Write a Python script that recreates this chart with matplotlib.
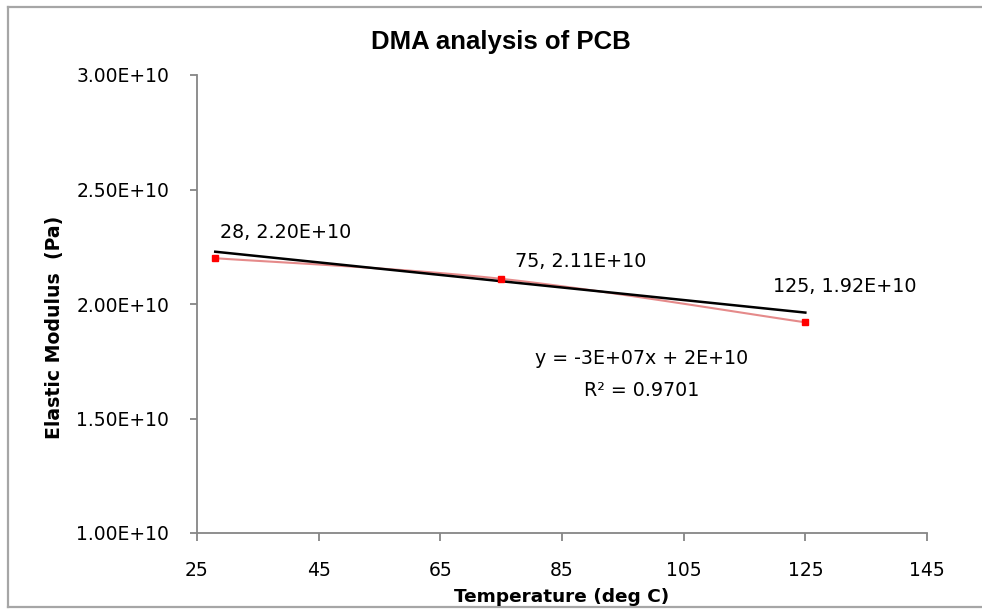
import numpy as np
import matplotlib
matplotlib.use("Agg")
import matplotlib.pyplot as plt
from matplotlib.lines import Line2D

# Measured storage modulus at three test temperatures
temperature_c = [28, 75, 125]
modulus_pa = [2.20e10, 2.11e10, 1.92e10]

# Linear trendline coefficients shown on the chart
trend_slope = -2.74e7
trend_intercept = 2.305e10

x_ticks = [25, 45, 65, 85, 105, 125, 145]
y_ticks = [1.0e10, 1.5e10, 2.0e10, 2.5e10, 3.0e10]
y_tick_labels = ["1.00E+10", "1.50E+10", "2.00E+10", "2.50E+10", "3.00E+10"]

title = "DMA analysis of PCB"
x_label = "Temperature (deg C)"
y_label = "Elastic Modulus  (Pa)"
trend_text = "y = -3E+07x + 2E+10"
r2_text = "R\u00b2 = 0.9701"

W, H = 982, 616
fig = plt.figure(figsize=(W / 100, H / 100), dpi=100)
fig.patch.set_facecolor("white")

# Outer chart frame (open on the right)
frame_kw = dict(transform=fig.transFigure, color="#A6A6A6", linewidth=1.6)
top_y, bot_y, left_x = 1 - 7 / H, 1 - 607 / H, 8 / W
fig.lines.extend([
    Line2D([left_x, 1.0], [top_y, top_y], **frame_kw),
    Line2D([left_x, 1.0], [bot_y, bot_y], **frame_kw),
    Line2D([left_x, left_x], [bot_y, top_y], **frame_kw),
])

ax = fig.add_axes([197 / W, 1 - 533 / H, (927 - 197) / W, (533 - 75) / H])
ax.set_xlim(25, 145)
ax.set_ylim(1.0e10, 3.0e10)

axis_grey = "#868686"
for side in ("top", "right"):
    ax.spines[side].set_visible(False)
for side in ("left", "bottom"):
    ax.spines[side].set_color(axis_grey)
    ax.spines[side].set_linewidth(1.3)

reg = "DejaVu Sans"
bold_title = "Liberation Sans"

ax.set_xticks(x_ticks)
ax.set_xticklabels([str(t) for t in x_ticks], fontsize=13.5, family=reg)
ax.set_yticks(y_ticks)
ax.set_yticklabels(y_tick_labels, fontsize=13.5, family=reg)
ax.tick_params(axis="x", direction="out", length=6, width=1.3, color=axis_grey, pad=14)
ax.tick_params(axis="y", direction="out", length=5, width=1.3, color=axis_grey, pad=15)

# Smoothed connecting line (Bezier through points, built in display space)
pts = ax.transData.transform(np.column_stack([temperature_c, modulus_pa]))
ext = np.vstack([pts[0], pts, pts[-1]])
curve = []
t = np.linspace(0, 1, 40)[:, None]
for i in range(1, len(ext) - 2):
    p0, p1, p2, p3 = ext[i - 1], ext[i], ext[i + 1], ext[i + 2]
    c1 = p1 + (p2 - p0) / 6.0
    c2 = p2 - (p3 - p1) / 6.0
    seg = ((1 - t) ** 3) * p1 + 3 * ((1 - t) ** 2) * t * c1 + 3 * (1 - t) * t ** 2 * c2 + t ** 3 * p2
    curve.append(seg)
curve = ax.transData.inverted().transform(np.vstack(curve))
ax.plot(curve[:, 0], curve[:, 1], color="#E58A8A", linewidth=1.5, zorder=2)

# Linear trendline over the data range
tx = np.array([min(temperature_c), max(temperature_c)])
ax.plot(tx, trend_slope * tx + trend_intercept, color="black", linewidth=1.8, zorder=3)

ax.plot(temperature_c, modulus_pa, linestyle="none", marker="s", markersize=4.6,
        color="#FF0000", markeredgecolor="#FF0000", zorder=4)

# Data labels
offsets = [(5, 26), (14, 17), (-32, 36)]
for xv, yv, (dx, dy) in zip(temperature_c, modulus_pa, offsets):
    ax.annotate(f"{xv}, {yv:.2E}", (xv, yv), xytext=(dx, dy), textcoords="offset pixels",
                ha="left", va="center", fontsize=13.8, family=reg, color="black")

fig.text(642 / W, 1 - 358 / H, trend_text, ha="center", va="center",
         fontsize=13.7, family=reg, color="black")
fig.text(642 / W, 1 - 390 / H, r2_text, ha="center", va="center",
         fontsize=13.7, family=reg, color="black")

fig.text(501 / W, 1 - 42 / H, title, ha="center", va="center",
         fontsize=18.5, fontweight="bold", family=bold_title, color="black")
fig.text(562 / W, 1 - 597 / H, x_label, ha="center", va="center",
         fontsize=13.3, fontweight="bold", family=reg, color="black")
fig.text(55 / W, 1 - 327 / H, y_label, ha="center", va="center", rotation=90,
         fontsize=13.6, fontweight="bold", family=reg, color="black")

fig.savefig("out.png", dpi=100, facecolor="white")
